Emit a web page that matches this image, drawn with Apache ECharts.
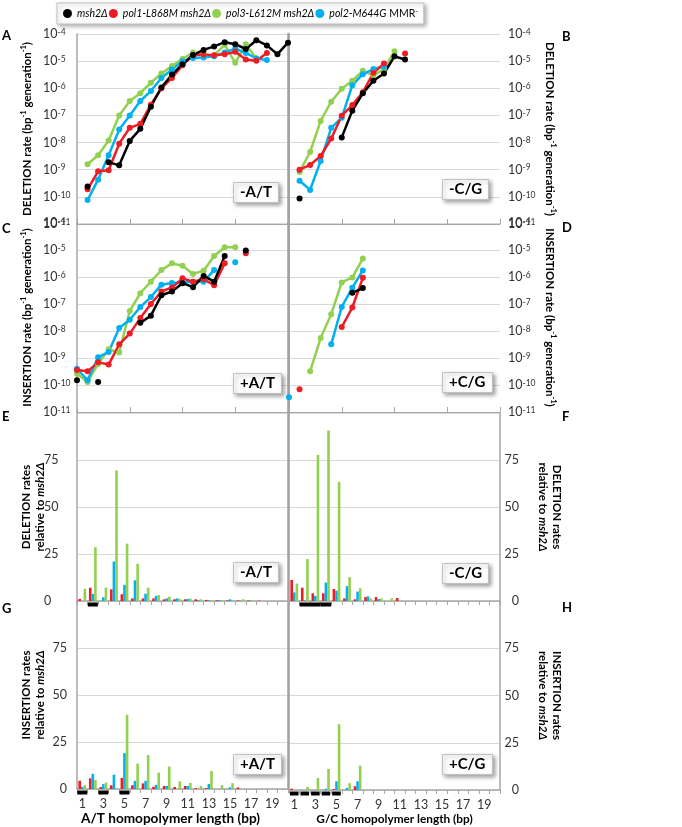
<!DOCTYPE html>
<html><head><meta charset="utf-8">
<script src="https://cdn.jsdelivr.net/npm/echarts@6/dist/echarts.min.js"></script>
<style>html,body{margin:0;padding:0;background:#fff}#c{width:682px;height:827px}</style>
</head><body><div id="c"></div>
<script>
// ---------- names / colours ----------
const seriesNames = ['msh2Δ', 'pol1-L868M msh2Δ', 'pol3-L612M msh2Δ', 'pol2-M644G MMR⁻'];
const seriesColors = ['#000000', '#ee1c25', '#92d050', '#00b0f0'];
const lengthCategories = ['1','2','3','4','5','6','7','8','9','10','11','12','13','14','15','16','17','18','19','20'];

// ---------- A: -A/T deletion rate (length starts at 1) ----------
const delAT_start = 1;
const delAT_msh2 = [2.4e-10, null, 1.9e-9, 1.45e-9, 1.15e-8, 3.2e-8, 2.1e-7, 1.07e-6, 3.2e-6, 7.7e-6, 1.7e-5, 2.6e-5, 3.5e-5, 5.0e-5, 4.2e-5, 2.8e-5, 5.9e-5, 3.8e-5, 1.8e-5, 4.8e-5];
const delAT_pol1 = [1.9e-10, 8.7e-10, 9.5e-10, 9.1e-9, 3.5e-8, 4.9e-8, 2.5e-7, 1.0e-6, 2.4e-6, 7.1e-6, 1.66e-5, 1.76e-5, 1.66e-5, 1.8e-5, 2.2e-5, 1.15e-5, 1.03e-5, 2.0e-5];
const delAT_pol3 = [1.6e-9, 3.4e-9, 1.2e-8, 1.0e-7, 3.4e-7, 6.6e-7, 1.6e-6, 3.5e-6, 6.6e-6, 1.2e-5, 2.1e-5, 1.7e-5, 1.66e-5, 4.0e-5, 8.7e-6, 4.2e-5, 1.25e-5];
const delAT_pol2 = [7.6e-11, 4.3e-10, 3.4e-9, 3.0e-8, 1.0e-7, 3.4e-7, 7.9e-7, 2.4e-6, 4.9e-6, 1.0e-5, 1.3e-5, 1.36e-5, 1.5e-5, 2.1e-5, 2.9e-5, 2.0e-5, 1.25e-5, 1.1e-5];

// ---------- B: -C/G deletion rate (length starts at 1) ----------
const delCG_start = 1;
const delCG_msh2 = [8.7e-11, null, null, null, 1.55e-8, 1.5e-7, 6.5e-7, 1.9e-6, 3.5e-6, 1.5e-5, 1.15e-5];
const delCG_pol1 = [1.0e-9, 1.5e-9, 3.2e-9, 1.4e-8, 9.8e-8, 2.4e-7, 7.2e-7, 3.7e-6, 8.2e-6, null, 1.9e-5];
const delCG_pol3 = [8.3e-10, 4.5e-9, 6.3e-8, 3.2e-7, 9.6e-7, 1.9e-6, 4.4e-6, 3.0e-6, 5.1e-6, 2.3e-5];
const delCG_pol2 = [3.9e-10, 1.8e-10, 2.1e-9, 3.5e-8, 8.3e-8, 1.3e-6, 3.3e-6, 5.1e-6, 6.2e-6];

// ---------- C: +A/T insertion rate (length starts at 0) ----------
const insAT_start = 0;
const insAT_msh2 = [1.5e-10, null, 1.3e-10, null, null, null, 2.0e-8, 3.7e-8, 2.1e-7, 2.9e-7, 5.9e-7, 4.2e-7, 1.1e-6, 6.7e-7, 6.0e-6, null, 9.5e-6];
const insAT_pol1 = [3.6e-10, 3.2e-10, 6.9e-10, 5.7e-10, 3.2e-9, 8.0e-9, 3.0e-8, 1.0e-7, 2.9e-7, 4.1e-7, 8.9e-7, 6.7e-7, 8.2e-7, 5.0e-7, 3.2e-6, null, 7.5e-6];
const insAT_pol3 = [2.6e-10, 1.3e-10, 6.0e-10, 2.1e-9, 1.6e-9, 5.5e-8, 2.5e-7, 6.7e-7, 1.8e-6, 3.2e-6, 2.6e-6, 1.3e-6, 1.7e-6, 6.0e-6, 1.26e-5, 1.26e-5];
const insAT_pol2 = [4.0e-10, 1.5e-10, 1.07e-9, 1.66e-9, 1.3e-8, 2.6e-8, 7.7e-8, 1.8e-7, 5.2e-7, 6.0e-7, 6.2e-7, 6.7e-7, 6.7e-7, 1.8e-6, null, 3.5e-6];

// ---------- D: +C/G insertion rate (length starts at 0) ----------
const insCG_start = 0;
const insCG_msh2 = [null, null, null, null, null, null, 2.6e-7, 3.9e-7];
const insCG_pol1 = [null, 6.9e-11, null, null, null, 1.4e-8, 7.4e-8, 9.3e-7];
const insCG_pol3 = [null, null, 3.2e-10, 5.5e-9, 4.2e-8, 6.3e-7, 9.6e-7, 4.8e-6];
const insCG_pol2 = [3.5e-11, null, null, null, 3.2e-9, 7.8e-8, 4.0e-7, 1.75e-6];

// ---------- E: -A/T deletion rate relative to msh2Δ ----------
const relDelAT_pol1 = [1.1, 7.1, 0, 6.2, 3.6, 1.4, 1.4, 1.4, 0.9, 0.9, 0.9, 0.9, 0.6, 0.4, 0.3, 0.3, 0.3, 0.2, 0, 0];
const relDelAT_pol2 = [0, 3.8, 2.0, 21, 8.6, 11, 3.9, 2.7, 1.4, 1.4, 1.1, 0.5, 0.4, 0.4, 0.9, 0.2, 0.2, 0, 0, 0];
const relDelAT_pol3 = [6.5, 28.6, 7.1, 69.5, 30.5, 19.8, 7.1, 3.2, 2.3, 1.1, 1.3, 0.9, 0.5, 0.4, 0.3, 0.9, 0.3, 0, 0, 0];
const relDelAT_marked = ['2'];

// ---------- F: -C/G deletion rate relative to msh2Δ ----------
const relDelCG_pol1 = [11.2, 7.1, 4.1, 4.1, 6.4, 1.4, 0.9, 2.1, 2.1, 0, 1.6, 0, 0, 0, 0, 0, 0, 0, 0, 0];
const relDelCG_pol2 = [4.6, 0.3, 2.7, 9.8, 5.5, 7.9, 5.0, 2.5, 1.0, 0, 0, 0, 0, 0, 0, 0, 0, 0, 0, 0];
const relDelCG_pol3 = [9.3, 22.3, 77.7, 90.7, 63.4, 12.7, 6.8, 1.4, 1.4, 1.4, 0, 0, 0, 0, 0, 0, 0, 0, 0, 0];
const relDelCG_marked = ['2', '3', '4'];

// ---------- G: +A/T insertion rate relative to msh2Δ ----------
const relInsAT_pol1 = [4.4, 5.7, 1.0, 2.0, 5.9, 2.0, 3.0, 1.2, 1.6, 1.1, 1.6, 0.5, 0.5, 0, 0, 0.8, 0, 0, 0, 0];
const relInsAT_pol2 = [1.2, 8.1, 2.6, 7.6, 19.1, 4.3, 4.3, 2.2, 1.6, 0, 1.6, 0, 2.7, 0, 0.9, 0, 0, 0, 0, 0];
const relInsAT_pol3 = [2.0, 4.8, 3.4, 0, 39.5, 13.5, 18.1, 8.7, 11.9, 4.1, 3.2, 1.6, 9.6, 2.1, 3.1, 0, 0, 0, 0, 0];
const relInsAT_marked = ['1', '3', '5'];

// ---------- H: +C/G insertion rate relative to msh2Δ ----------
const relInsCG_pol1 = [0.7, 0, 0, 0, 0.5, 0, 2.0, 0, 0, 0, 0, 0, 0, 0, 0, 0, 0, 0, 0, 0];
const relInsCG_pol2 = [0, 0, 0, 0.7, 4.6, 1.1, 4.6, 0, 0, 0, 0, 0, 0, 0, 0, 0, 0, 0, 0, 0];
const relInsCG_pol3 = [0, 1.6, 6.4, 11.2, 34.8, 3.6, 12.9, 0, 0, 0, 0, 0, 0, 0, 0, 0, 0, 0, 0, 0];
const relInsCG_marked = ['1', '2', '3', '4', '5'];

const panelTags = ['-A/T', '-C/G', '+A/T', '+C/G', '-A/T', '-C/G', '+A/T', '+C/G'];

// ---------- build ----------
const FONT = 'Lato, "Open Sans", sans-serif';
const GRID_LINE = '#d9d9d9';
const AXIS_LINE = '#a6a6a6';
const LEFT = 77, RIGHT = 289, W = 211;
const rows = [{top: 34, h: 190}, {top: 223, h: 189}, {top: 413, h: 188}, {top: 601, h: 189}];

const grids = [];
rows.forEach(r => {
  grids.push({left: LEFT, top: r.top, width: W, height: r.h});
  grids.push({left: RIGHT, top: r.top, width: W, height: r.h});
});

const supRich = {
  b: {fontSize: 12.5, fontFamily: FONT, color: '#333'},
  s: {fontSize: 8.5, fontFamily: FONT, color: '#333', verticalAlign: 'top', lineHeight: 8}
};
function logFmt(v) {
  const e = Math.round(Math.log10(v));
  return '{b|10}{s|' + e + '}';
}
const NAME_FS = 11.5;
const nameRich = {
  t: {fontSize: NAME_FS, fontWeight: 'bold', fontFamily: FONT, color: '#000', lineHeight: 14},
  s: {fontSize: 7.5, fontWeight: 'bold', fontFamily: FONT, color: '#000', verticalAlign: 'top', lineHeight: 7},
  i: {fontSize: NAME_FS, fontWeight: 'bold', fontStyle: 'italic', fontFamily: FONT, color: '#000', lineHeight: 14}
};
function rateName(kind) {
  return '{t|' + kind + ' rate (bp}{s|-1}{t| generation}{s|-1}{t|)}';
}
function relName(kind) {
  return '{t|' + kind + ' rates}\n{t|relative to }{i|msh2Δ}';
}

const xAxes = [], yAxes = [];
for (let g = 0; g < 8; g++) {
  const row = Math.floor(g / 2), isRight = g % 2 === 1;
  if (row < 2) {
    xAxes.push({type: 'value', gridIndex: g, min: 0, max: 20, interval: 5,
      axisLine: {lineStyle: {color: AXIS_LINE, width: 1}},
      axisTick: {inside: true, length: 5, lineStyle: {color: AXIS_LINE}},
      axisLabel: {show: false}, splitLine: {show: false}});
    yAxes.push({type: 'log', logBase: 10, gridIndex: g, min: 1e-11, max: 1e-4, interval: 1, splitNumber: 7,
      position: isRight ? 'right' : 'left',
      axisLine: {show: true, lineStyle: {color: AXIS_LINE, width: 1.5}},
      axisTick: {show: false},
      splitLine: {lineStyle: {color: GRID_LINE}},
      minorTick: {show: false}, minorSplitLine: {show: false},
      axisLabel: {formatter: logFmt, rich: supRich, margin: isRight ? 8 : 34, align: 'left', showMaxLabel: row === 0},
      name: rateName(row === 0 ? 'DELETION' : 'INSERTION'),
      nameLocation: 'middle', nameRotate: isRight ? -90 : 90, nameGap: isRight ? 43 : 43,
      nameMoveOverlap: false,
      nameTextStyle: {rich: nameRich}});
  } else {
    const bottom = row === 3;
    xAxes.push({type: 'category', gridIndex: g, data: lengthCategories,
      axisLine: {lineStyle: {color: AXIS_LINE, width: 1.5}},
      axisTick: {show: true, interval: 0, length: 4, lineStyle: {color: AXIS_LINE}},
      axisLabel: {show: bottom, interval: 1, fontSize: 12.5, fontFamily: FONT, color: '#333', margin: 8},
      name: bottom ? (isRight ? 'G/C homopolymer length (bp)' : 'A/T homopolymer length (bp)') : '',
      nameLocation: 'middle', nameGap: 23,
      nameTextStyle: {fontSize: isRight ? 11.8 : 13.6, fontWeight: 'bold', fontFamily: FONT, color: '#000',
        padding: isRight ? 0 : [0, 24, 0, 0]},
      splitLine: {show: false}});
    yAxes.push({type: 'value', gridIndex: g, min: 0, max: 100, interval: 25,
      position: isRight ? 'right' : 'left',
      axisLine: {show: true, lineStyle: {color: AXIS_LINE, width: 1.5}},
      axisTick: {show: false},
      splitLine: {lineStyle: {color: GRID_LINE}},
      axisLabel: {fontSize: 12.5, fontFamily: FONT, color: '#333', showMaxLabel: false,
        align: isRight ? 'right' : (row === 2 ? 'left' : 'right'),
        margin: isRight ? 19 : (row === 2 ? 33 : 10)},
      name: relName(row === 2 ? 'DELETION' : 'INSERTION'),
      nameLocation: 'middle', nameRotate: isRight ? -90 : 90, nameGap: isRight ? 36 : 30,
      nameMoveOverlap: false,
      nameTextStyle: {rich: nameRich}});
  }
}
// divider axis lines on the right edge of the left panels
[0, 2, 4, 6].forEach(g => {
  yAxes.push({type: 'value', gridIndex: g, min: 0, max: 1, position: 'right',
    axisLine: {show: true, lineStyle: {color: '#a0a0a0', width: 2.5}},
    axisTick: {show: false}, axisLabel: {show: false}, splitLine: {show: false}});
});

const series = [];
function toXY(start, arr) { return arr.map((v, i) => [start + i, v == null ? '-' : v]); }
function addLines(g, start, arrs) {
  // draw order: pol3, pol2, pol1, msh2
  [[2, arrs[2]], [3, arrs[3]], [1, arrs[1]], [0, arrs[0]]].forEach(([k, arr]) => {
    series.push({type: 'line', name: seriesNames[k], xAxisIndex: g, yAxisIndex: g,
      data: toXY(start, arr), symbol: 'circle', symbolSize: 6, showSymbol: true, showAllSymbol: true,
      connectNulls: false, color: seriesColors[k],
      lineStyle: {width: 2.5, color: seriesColors[k]}, itemStyle: {color: seriesColors[k]}});
  });
}
addLines(0, delAT_start, [delAT_msh2, delAT_pol1, delAT_pol3, delAT_pol2]);
addLines(1, delCG_start, [delCG_msh2, delCG_pol1, delCG_pol3, delCG_pol2]);
addLines(2, insAT_start, [insAT_msh2, insAT_pol1, insAT_pol3, insAT_pol2]);
addLines(3, insCG_start, [insCG_msh2, insCG_pol1, insCG_pol3, insCG_pol2]);

function addBars(g, pol1, pol2, pol3, marked, markW) {
  [[1, pol1], [3, pol2], [2, pol3]].forEach(([k, arr]) => {
    series.push({type: 'bar', name: seriesNames[k], xAxisIndex: g, yAxisIndex: g, data: arr,
      barWidth: 2.6, barGap: '0%', itemStyle: {color: seriesColors[k]}, color: seriesColors[k]});
  });
  series.push({type: 'scatter', name: 'marked', xAxisIndex: g, yAxisIndex: g,
    data: marked.map(c => [c, 0]), symbol: 'rect', symbolSize: [markW, 4], symbolOffset: [0, 3.5],
    clip: false, itemStyle: {color: '#000', opacity: 1}, z: 5, silent: true});
}
addBars(4, relDelAT_pol1, relDelAT_pol2, relDelAT_pol3, relDelAT_marked, 10);
addBars(5, relDelCG_pol1, relDelCG_pol2, relDelCG_pol3, relDelCG_marked, 10.6);
addBars(6, relInsAT_pol1, relInsAT_pol2, relInsAT_pol3, relInsAT_marked, 10);
addBars(7, relInsCG_pol1, relInsCG_pol2, relInsCG_pol3, relInsCG_marked, 8.6);

const tagPos = [[233, 182], [442, 179], [233, 373], [442, 372], [233, 562], [442, 563], [233, 754], [442, 754]];
const titles = panelTags.map((t, i) => ({
  text: t, left: tagPos[i][0], top: tagPos[i][1], padding: [3, 7, 3, 7],
  backgroundColor: '#fff', borderColor: '#c0c0c0', borderWidth: 1,
  shadowBlur: 4, shadowColor: 'rgba(0,0,0,0.35)', shadowOffsetX: 2, shadowOffsetY: 2,
  textStyle: {fontSize: 15, fontWeight: 'bold', fontFamily: FONT, color: '#000'}
}));

const letters = [['A', 2, 29], ['B', 562, 30], ['C', 2, 222], ['D', 562, 221], ['E', 2, 410], ['F', 562, 410], ['G', 2, 602], ['H', 562, 601]];
const graphic = letters.map(([t, x, y]) => ({type: 'text', left: x, top: y,
  style: {text: t, font: 'bold 13px ' + FONT, fill: '#000'}}));

const legendRich = {
  i: {fontStyle: 'italic', fontSize: 10.5, fontFamily: FONT, color: '#000'},
  n: {fontSize: 10.5, fontFamily: FONT, color: '#000'},
  s: {fontSize: 7, fontFamily: FONT, color: '#000', verticalAlign: 'top', lineHeight: 7}
};

const chart = echarts.init(document.getElementById('c'), null, {renderer: 'canvas'});
chart.setOption({
  animation: false,
  backgroundColor: '#fff',
  grid: grids,
  xAxis: xAxes,
  yAxis: yAxes,
  series: series,
  title: titles,
  graphic: graphic,
  legend: {
    data: seriesNames, left: 57, top: 3, icon: 'circle', itemWidth: 9, itemHeight: 9, itemGap: 1,
    padding: [5, 6, 5, 6], borderColor: '#c0c0c0', borderWidth: 1, backgroundColor: '#fff',
    shadowBlur: 4, shadowColor: 'rgba(0,0,0,0.3)', shadowOffsetX: 2, shadowOffsetY: 2,
    textStyle: {fontSize: 10.5, fontFamily: FONT, color: '#000', rich: legendRich},
    formatter: function (name) {
      if (name === 'pol2-M644G MMR⁻') return '{i|pol2-M644G} {n|MMR}{s|-}';
      return '{i|' + name + '}';
    }
  }
});
</script>
</body></html>
